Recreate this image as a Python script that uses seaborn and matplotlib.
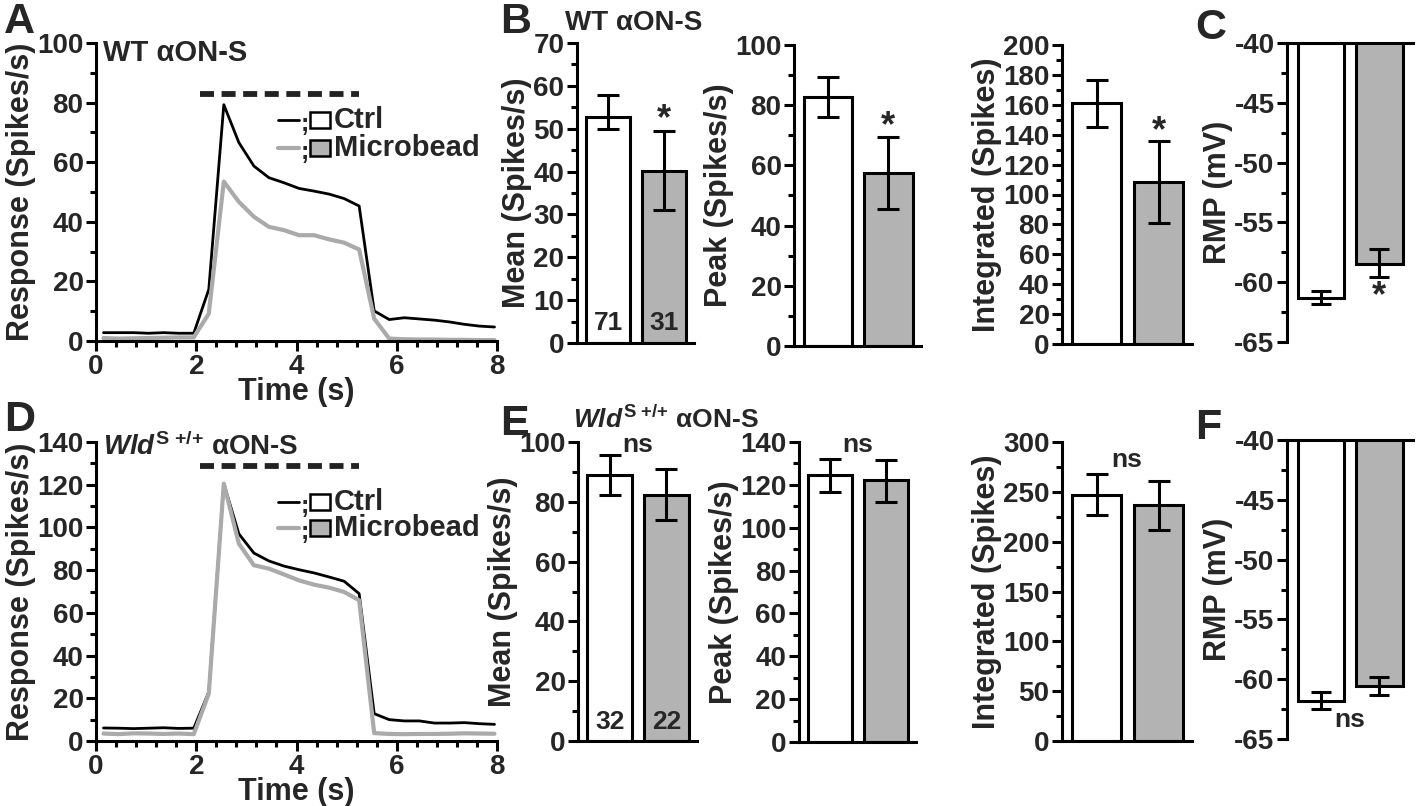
import numpy as np
import pandas as pd
import matplotlib
matplotlib.use("Agg")
import matplotlib.pyplot as plt
import seaborn as sns
from matplotlib.ticker import MultipleLocator
from matplotlib.patches import Rectangle
from matplotlib.lines import Line2D

# ---------------- data ----------------
time_s = [0.15, 0.45, 0.75, 1.05, 1.35, 1.65, 1.95, 2.25, 2.55, 2.85, 3.15, 3.45, 3.75,
          4.05, 4.35, 4.65, 4.95, 5.25, 5.55, 5.85, 6.15, 6.45, 6.75, 7.05, 7.35, 7.65, 7.95]
wt_ctrl = [2.8, 2.8, 2.8, 2.6, 2.8, 2.6, 2.6, 17.3, 79.3, 66.6, 58.7, 54.8, 53.1,
           51.2, 50.3, 49.3, 47.8, 45.3, 10.1, 7.2, 7.8, 7.4, 7.0, 6.4, 5.6, 5.0, 4.7]
wt_bead = [1.0, 0.8, 0.9, 1.0, 1.1, 1.2, 1.2, 9.2, 53.5, 46.7, 41.7, 38.3, 37.2,
           35.5, 35.5, 34.1, 33.0, 30.7, 7.5, 0.8, 0.6, 0.5, 0.5, 0.4, 0.4, 0.3, 0.3]
wld_ctrl = [6.1, 6.0, 5.8, 6.0, 6.2, 5.9, 6.0, 22.9, 120.5, 97.0, 88.0, 84.3, 81.9,
            80.2, 78.7, 76.8, 74.8, 69.0, 12.8, 10.0, 9.4, 9.4, 8.4, 8.4, 8.6, 8.1, 7.8]
wld_bead = [3.5, 3.2, 3.6, 3.5, 3.3, 3.5, 3.2, 22.2, 120.5, 92.4, 82.3, 80.7, 78.0,
            75.2, 73.2, 71.8, 69.8, 65.9, 3.7, 3.3, 3.2, 3.3, 3.3, 3.4, 3.6, 3.5, 3.4]
stim_on, stim_off = 2.08, 5.24

groups = ["Ctrl", "Microbead"]

wt_mean = [52.8, 40.2]; wt_mean_lo = [49.9, 31.0]; wt_mean_hi = [57.8, 49.5]
wt_peak = [82.8, 57.6]; wt_peak_lo = [76.2, 45.5]; wt_peak_hi = [89.3, 69.3]
wt_int = [161.0, 108.6]; wt_int_lo = [145.4, 81.2]; wt_int_hi = [176.6, 136.0]
wt_rmp = [-61.3, -58.5]; wt_rmp_lo = [-61.8, -59.6]; wt_rmp_hi = [-60.75, -57.2]
wt_n = ["71", "31"]

wld_mean = [88.9, 82.4]; wld_mean_lo = [82.2, 73.8]; wld_mean_hi = [95.5, 90.9]
wld_peak = [124.4, 122.1]; wld_peak_lo = [116.5, 111.8]; wld_peak_hi = [132.0, 131.7]
wld_int = [247.0, 236.5]; wld_int_lo = [226.4, 211.4]; wld_int_hi = [267.5, 260.5]
wld_rmp = [-61.8, -60.6]; wld_rmp_lo = [-62.5, -61.35]; wld_rmp_hi = [-61.1, -59.85]
wld_n = ["32", "22"]

# ---------------- style ----------------
sns.set_theme(style="ticks")
plt.rcParams['font.family'] = ['Liberation Sans', 'DejaVu Sans']
plt.rcParams['font.weight'] = 'bold'
plt.rcParams['axes.labelweight'] = 'bold'
plt.rcParams['axes.unicode_minus'] = False
plt.rcParams['mathtext.fontset'] = 'custom'
plt.rcParams['mathtext.rm'] = 'Liberation Sans:bold'
plt.rcParams['mathtext.it'] = 'Liberation Sans:italic:bold'
plt.rcParams['mathtext.bf'] = 'Liberation Sans:bold'

LW = 2.2
TICK_FS = 20
LABEL_FS = 22
BAR_GRAY = "#b3b3b3"
LINE_GRAY = "#aaaaaa"
palette = {"Ctrl": "white", "Microbead": BAR_GRAY}
WLD_TITLE = r"$\mathit{Wld}^{\mathrm{S}\,\,{+}{/}{+}}$ αON-S"

W, H = 1418, 806
fig = plt.figure(figsize=(W / 100, H / 100), dpi=100)


def pax(l, t, r, b):
    return fig.add_axes([l / W, 1 - b / H, (r - l) / W, (b - t) / H])


def style_axis(ax, ymaj, ymin):
    for s in ax.spines.values():
        s.set_linewidth(LW)
        s.set_color("black")
    ax.yaxis.set_major_locator(MultipleLocator(ymaj))
    ax.yaxis.set_minor_locator(MultipleLocator(ymin))
    ax.tick_params(which="major", length=7, width=LW, color="black", labelsize=TICK_FS, pad=2)
    ax.tick_params(which="minor", length=4, width=LW, color="black")


def trace_panel(ax, ctrl, bead, ymax, ymaj, ymin, stim_y, leg_y):
    df = pd.DataFrame({"t": time_s * 2, "r": ctrl + bead,
                       "g": ["Ctrl"] * len(time_s) + ["Microbead"] * len(time_s)})
    sns.lineplot(data=df[df.g == "Ctrl"], x="t", y="r", color="black", lw=2.0, ax=ax)
    sns.lineplot(data=df[df.g == "Microbead"], x="t", y="r", color=LINE_GRAY, lw=3.0, ax=ax)
    ax.plot([stim_on, stim_off], [stim_y, stim_y], color="#222222", lw=4.2,
            linestyle=(0, (2.4, 1.3)), solid_capstyle="butt")
    ax.set_xlim(0, 8)
    ax.set_ylim(0, ymax)
    ax.spines["top"].set_visible(False)
    ax.spines["right"].set_visible(False)
    style_axis(ax, ymaj, ymin)
    ax.xaxis.set_major_locator(MultipleLocator(2))
    ax.xaxis.set_minor_locator(MultipleLocator(0.4))
    ax.set_xlabel("Time (s)", fontsize=LABEL_FS, fontweight="bold", labelpad=-2)
    ax.set_ylabel("Response (Spikes/s)", fontsize=LABEL_FS, fontweight="bold", labelpad=1)
    # legend (GraphPad style)
    for (yy, col, lw, face, lab) in [(leg_y[0], "black", 2.0, "white", "Ctrl"),
                                     (leg_y[1], LINE_GRAY, 3.0, BAR_GRAY, "Microbead")]:
        ax.add_line(Line2D([0.454, 0.507], [yy, yy], color=col, lw=lw, transform=ax.transAxes))
        ax.text(0.511, yy - 0.014, ";", transform=ax.transAxes, fontsize=18,
                va="center", ha="left", fontweight="bold")
        ax.add_patch(Rectangle((0.534, yy - 0.027), 0.05, 0.054, transform=ax.transAxes,
                               facecolor=face, edgecolor="black", lw=1.8, clip_on=False))
        ax.text(0.594, yy, lab, transform=ax.transAxes, fontsize=21, va="center",
                ha="left", fontweight="bold")


def bar_panel(ax, vals, lo, hi, ylim, ymaj, ymin, ylabel, xlim, capsize, hang=False):
    df = pd.DataFrame({"group": groups, "value": vals})
    sns.barplot(data=df, x="group", y="value", hue="group", palette=palette,
                edgecolor="black", linewidth=LW, width=0.8, legend=False,
                errorbar=None, ax=ax, saturation=1)
    v = np.array(vals)
    ax.errorbar([0, 1], v, yerr=[v - np.array(lo), np.array(hi) - v], fmt="none",
                ecolor="black", elinewidth=LW, capsize=capsize, capthick=LW, zorder=5)
    ax.set_ylim(*ylim)
    ax.set_xlim(*xlim)
    ax.set_xticks([])
    ax.set_xlabel("")
    ax.spines["right"].set_visible(False)
    if hang:
        ax.spines["bottom"].set_visible(False)
    else:
        ax.spines["top"].set_visible(False)
    style_axis(ax, ymaj, ymin)
    ax.set_ylabel(ylabel, fontsize=LABEL_FS, fontweight="bold", labelpad=1)


def nlabels(ax, labels):
    for i, s in enumerate(labels):
        ax.text(i, 0.025, s, transform=ax.get_xaxis_transform(), ha="center",
                va="bottom", fontsize=19, fontweight="bold")


# ---------------- panel A ----------------
axA = pax(96, 43, 497, 341)
trace_panel(axA, wt_ctrl, wt_bead, 100, 20, 10, 82.8, (0.742, 0.648))
axA.text(0.018, 0.965, "WT αON-S", transform=axA.transAxes, fontsize=21,
         fontweight="bold", va="center", ha="left")

# ---------------- panel D ----------------
axD = pax(96, 442, 497, 741)
trace_panel(axD, wld_ctrl, wld_bead, 140, 20, 10, 128.6, (0.799, 0.712))
axD.text(0.018, 0.985, WLD_TITLE, transform=axD.transAxes,
         fontsize=20, fontweight="bold", va="center", ha="left")

XL = (-0.56, 1.54)
# ---------------- panel B ----------------
axB1 = pax(577, 43, 694, 343)
bar_panel(axB1, wt_mean, wt_mean_lo, wt_mean_hi, (0, 70), 10, 5, "Mean (Spikes/s)", XL, 8)
nlabels(axB1, wt_n)
axB1.text(1, wt_mean_hi[1] + 2.5, "*", ha="center", va="center", fontsize=26, fontweight="bold")
axB1.text(-0.1, 1.065, "WT αON-S", transform=axB1.transAxes, fontsize=20,
          fontweight="bold", va="center", ha="left")

axB2 = pax(794, 45, 921, 346)
bar_panel(axB2, wt_peak, wt_peak_lo, wt_peak_hi, (0, 100), 20, 10, "Peak (Spikes/s)", XL, 8)
axB2.text(1, wt_peak_hi[1] + 3.5, "*", ha="center", va="center", fontsize=26, fontweight="bold")

axB3 = pax(1062, 45, 1192, 344)
bar_panel(axB3, wt_int, wt_int_lo, wt_int_hi, (0, 200), 20, 10, "Integrated (Spikes)", XL, 8)
axB3.text(1, wt_int_hi[1] + 6, "*", ha="center", va="center", fontsize=26, fontweight="bold")

# ---------------- panel C ----------------
axC = pax(1287, 43, 1413, 342)
bar_panel(axC, wt_rmp, wt_rmp_lo, wt_rmp_hi, (-65, -40), 5, 2.5, "RMP (mV)", (-0.58, 1.58), 7, hang=True)
axC.text(1, wt_rmp_lo[1] - 1.6, "*", ha="center", va="center", fontsize=26, fontweight="bold")

# ---------------- panel E ----------------
axE1 = pax(578, 442, 697, 741)
bar_panel(axE1, wld_mean, wld_mean_lo, wld_mean_hi, (0, 100), 20, 10, "Mean (Spikes/s)", XL, 8)
nlabels(axE1, wld_n)
axE1.text(0.5, 0.99, "ns", transform=axE1.transAxes, ha="center", va="center", fontsize=19, fontweight="bold")
axE1.text(-0.04, 1.075, WLD_TITLE, transform=axE1.transAxes,
          fontsize=19, fontweight="bold", va="center", ha="left")

axE2 = pax(799, 442, 916, 742)
bar_panel(axE2, wld_peak, wld_peak_lo, wld_peak_hi, (0, 140), 20, 10, "Peak (Spikes/s)", XL, 8)
axE2.text(0.5, 0.99, "ns", transform=axE2.transAxes, ha="center", va="center", fontsize=19, fontweight="bold")

axE3 = pax(1062, 442, 1192, 741)
bar_panel(axE3, wld_int, wld_int_lo, wld_int_hi, (0, 300), 50, 25, "Integrated (Spikes)", XL, 8)
axE3.text(0.5, 0.94, "ns", transform=axE3.transAxes, ha="center", va="center", fontsize=19, fontweight="bold")

# ---------------- panel F ----------------
axF = pax(1287, 440, 1413, 739)
bar_panel(axF, wld_rmp, wld_rmp_lo, wld_rmp_hi, (-65, -40), 5, 2.5, "RMP (mV)", (-0.58, 1.58), 7, hang=True)
axF.text(0.5, -63.4, "ns", ha="center", va="center", fontsize=19, fontweight="bold")

# ---------------- panel letters ----------------
for (x, y, s) in [(4, 2, "A"), (500, 2, "B"), (1195, 8, "C"),
                  (4, 400, "D"), (500, 404, "E"), (1195, 408, "F")]:
    fig.text(x / W, 1 - y / H, s, fontsize=31, fontweight="bold", va="top", ha="left")

# force bold tick labels
fig.canvas.draw()
for ax in fig.axes:
    for lab in ax.get_xticklabels() + ax.get_yticklabels():
        lab.set_fontweight("bold")
        lab.set_fontsize(TICK_FS)

fig.savefig("out.png", dpi=100)
